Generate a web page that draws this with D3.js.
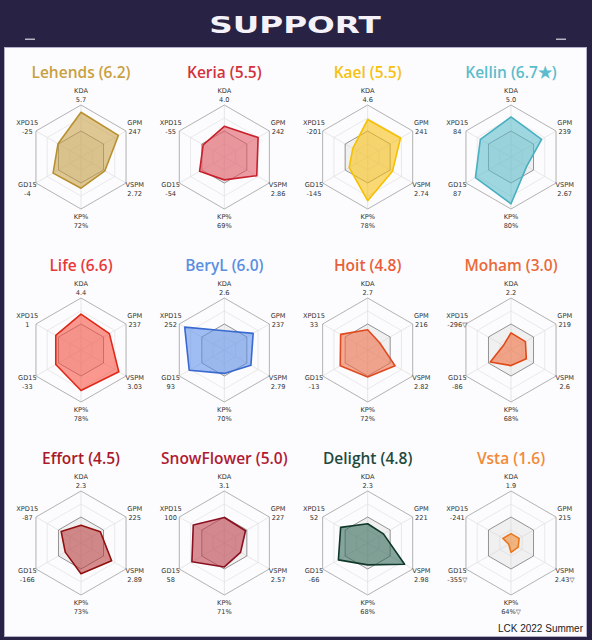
<!DOCTYPE html>
<html>
<head>
<script src="https://d3js.org/d3.v7.min.js"></script>
<style>
  body { margin: 0; background: #282244; }
</style>
</head>
<body>
<script>
const players = ["Lehends", "Keria", "Kael", "Kellin", "Life", "BeryL", "Hoit", "Moham", "Effort", "SnowFlower", "Delight", "Vsta"]
const scores = ["6.2", "5.5", "5.5", "6.7★", "6.6", "6.0", "4.8", "3.0", "4.5", "5.0", "4.8", "1.6"]
const axes = ["KDA", "GPM", "VSPM", "KP%", "GD15", "XPD15"]
// shown stat values, same order as axes
const statText = [
    ["5.7", "247", "2.72", "72%", "-4", "-25"],
    ["4.0", "242", "2.86", "69%", "-54", "-55"],
    ["4.6", "241", "2.74", "78%", "-145", "-201"],
    ["5.0", "239", "2.67", "80%", "87", "84"],
    ["4.4", "237", "3.03", "78%", "-33", "1"],
    ["2.6", "237", "2.79", "70%", "93", "252"],
    ["2.7", "216", "2.82", "72%", "-13", "33"],
    ["2.2", "219", "2.6", "68%", "-86", "-296▽"],
    ["2.3", "225", "2.89", "73%", "-166", "-87"],
    ["3.1", "227", "2.57", "71%", "58", "100"],
    ["2.3", "221", "2.98", "68%", "-66", "52"],
    ["1.9", "215", "2.43▽", "64%▽", "-355▽", "-241"]
]
// normalised score per axis (0.5 = league average)
const normValues = [
    [0.86, 0.83, 0.53, 0.60, 0.62, 0.51],
    [0.59, 0.75, 0.72, 0.44, 0.55, 0.47],
    [0.72, 0.73, 0.55, 0.84, 0.41, 0.33],
    [0.77, 0.68, 0.35, 0.90, 0.79, 0.68],
    [0.69, 0.63, 0.84, 0.78, 0.56, 0.56],
    [0.37, 0.64, 0.59, 0.45, 0.78, 0.88],
    [0.39, 0.27, 0.61, 0.52, 0.61, 0.60],
    [0.33, 0.32, 0.34, 0.30, 0.46, 0.17],
    [0.34, 0.43, 0.68, 0.59, 0.35, 0.44],
    [0.49, 0.47, 0.36, 0.46, 0.72, 0.69],
    [0.37, 0.35, 0.82, 0.42, 0.65, 0.60],
    [0.18, 0.18, 0.16, 0.18, 0.05, 0.18]
]
const average = [0.5, 0.5, 0.5, 0.5, 0.5, 0.5]
const titleColors = ["#c9a040", "#d3313c", "#f5c211", "#5cbccb", "#e8393a", "#5b8fe0", "#e8603a", "#ea6a3a", "#a81a2a", "#b01a34", "#1f4a3e", "#f08a3a"]
const fillColors = ["#c9a045", "#e2555e", "#f8c010", "#5cbccb", "#f8503f", "#5b8fe8", "#f06a44", "#f06a38", "#b83a3a", "#bb3c46", "#2e6654", "#f08a30"]
const strokeColors = ["#b89030", "#c8202c", "#f5c000", "#48b0c0", "#e02818", "#3a6ad0", "#e04a20", "#e04a18", "#901010", "#8a1020", "#103828", "#e87820"]

const W = 592, H = 640
const R = 52
const svg = d3.select("body").append("svg")
    .attr("width", W)
    .attr("height", H)
    .style("display", "block")

svg.append("rect").attr("width", W).attr("height", H).attr("fill", "#282244")

// header
svg.append("text")
    .attr("transform", "translate(295,33) scale(1.42,1)")
    .attr("text-anchor", "middle")
    .attr("font-family", "DejaVu Sans")
    .attr("font-weight", "bold")
    .attr("font-size", 23)
    .attr("fill", "#f4f2f8")
    .text("SUPPORT")
svg.append("rect").attr("x", 25).attr("y", 38.5).attr("width", 10).attr("height", 1.5).attr("fill", "#b8b4c4")
svg.append("rect").attr("x", 556).attr("y", 38.5).attr("width", 10).attr("height", 1.5).attr("fill", "#b8b4c4")

// white panel
svg.append("rect")
    .attr("x", 4.5).attr("y", 47.5).attr("width", 582).attr("height", 589)
    .attr("fill", "#fcfcfe")
    .attr("stroke", "#b7b0cc")

const rScale = d3.scaleLinear().domain([0, 1]).range([0, R])
const angle = d3.scaleLinear().domain([0, axes.length]).range([0, 2 * Math.PI])
const radial = d3.lineRadial()
    .angle((d, i) => angle(i))
    .radius(d => rScale(d))
    .curve(d3.curveLinearClosed)

const colX = d3.scalePoint().domain([0, 1, 2, 3]).range([81, 511])
const rowY = d3.scalePoint().domain([0, 1, 2]).range([157, 543])

players.forEach((name, p) => {
    const cx = colX(p % 4), cy = rowY(Math.floor(p / 4))
    const g = svg.append("g").attr("transform", `translate(${cx},${cy})`)

    // faint grid rings
    ;[0.25, 0.75].forEach(f => {
        g.append("path").attr("d", radial(axes.map(() => f)))
            .attr("fill", "none").attr("stroke", "#e4e4e4").attr("stroke-width", 0.8)
    })
    // spokes
    g.selectAll(".spoke").data(axes).join("line")
        .attr("x1", 0).attr("y1", 0)
        .attr("x2", (d, i) => rScale(1) * Math.sin(angle(i)))
        .attr("y2", (d, i) => -rScale(1) * Math.cos(angle(i)))
        .attr("stroke", "#dddddd").attr("stroke-width", 0.7)
    // outer ring
    g.append("path").attr("d", radial(axes.map(() => 1)))
        .attr("fill", "none").attr("stroke", "#a9a9a9").attr("stroke-width", 0.9)
    // league average
    g.append("path").attr("d", radial(average))
        .attr("fill", "#d4d4d4").attr("fill-opacity", 0.3)
        .attr("stroke", "#7a7a7a").attr("stroke-width", 0.8)
    // player
    g.append("path").attr("d", radial(normValues[p]))
        .attr("fill", fillColors[p]).attr("fill-opacity", 0.58)
        .attr("stroke", strokeColors[p]).attr("stroke-width", 1.6)
        .attr("stroke-linejoin", "round")

    // axis labels
    const lab = g.selectAll(".lab").data(axes).join("text")
        .attr("text-anchor", "middle")
        .attr("font-family", "DejaVu Sans")
        .attr("font-size", 6.6)
        .attr("fill", "#333")
        .attr("transform", (d, i) => {
            const rr = (i === 0 || i === 3) ? R + 11 : R + 10
            return `translate(${rr * Math.sin(angle(i))},${-rr * Math.cos(angle(i))})`
        })
    lab.append("tspan").attr("x", 0).attr("y", -1).text(d => d)
    lab.append("tspan").attr("x", 0).attr("y", 7.5).text((d, i) => statText[p][i])

    // title
    svg.append("text")
        .attr("x", cx).attr("y", cy - 79)
        .attr("text-anchor", "middle")
        .attr("font-family", "Open Sans")
        .attr("font-weight", 600)
        .attr("font-size", 15.5)
        .attr("fill", titleColors[p])
        .text(`${name} (${scores[p]})`)
})

svg.append("text")
    .attr("x", 583).attr("y", 632)
    .attr("text-anchor", "end")
    .attr("font-family", "Liberation Sans")
    .attr("font-size", 10)
    .attr("fill", "#222")
    .text("LCK 2022 Summer")
</script>
</body>
</html>
